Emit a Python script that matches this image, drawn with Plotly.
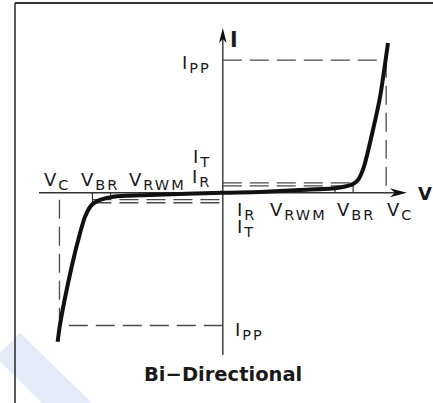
import numpy as np
import plotly.graph_objects as go

# characteristic values (normalised units: V_C ~ 1, I_PP = 1)
V_C = 0.99
V_BR = 0.79
V_RWM = 0.68
I_PP = 1.0
I_T = 0.075
I_R = 0.052

# I-V curve of the bi-directional device
V_CURVE = [-1.001, -0.987, -0.916, -0.865, -0.835, -0.795, -0.744, -0.665, -0.441,
           0.0, 0.225, 0.468, 0.680, 0.741, 0.789, 0.819, 0.844, 0.862, 0.910, 0.953, 1.001]
I_CURVE = [-1.122, -0.996, -0.557, -0.303, -0.180, -0.092, -0.054, -0.029, -0.017,
           0.0, 0.006, 0.021, 0.034, 0.047, 0.066, 0.096, 0.157, 0.225, 0.473, 0.722, 1.129]

W, H = 433, 403
ORIGIN_X, ORIGIN_Y = 222.8, 192.8   # pixel position of the axes crossing
V_PX, I_PX = 165.0, 132.7           # pixels per unit

FONT = "DejaVu Sans"
TXT = "#1a1a1a"
DASH_COL = "#4a4a4a"
MAIN, SUB = 18, 14.5


def lab(main, sub):
    return (f'<span style="letter-spacing:2px">{main}<sub>'
            f'<span style="font-size:{SUB}px">{sub}</span></sub></span>')


def paper(x, y):
    return x / W, 1 - y / H


fig = go.Figure()

dash = dict(color=DASH_COL, width=1.3, dash="19px,8px")

# I_PP / V_C guide lines
fig.add_trace(go.Scatter(x=[0, V_C, V_C], y=[I_PP, I_PP, 0], mode="lines", line=dash))
fig.add_trace(go.Scatter(x=[0, -V_C, -V_C], y=[-I_PP, -I_PP, 0], mode="lines", line=dash))
# I_T / I_R guide lines
for i in (I_T, I_R):
    fig.add_trace(go.Scatter(x=[0, V_BR], y=[i, i], mode="lines", line=dash))
    fig.add_trace(go.Scatter(x=[-V_BR, 0], y=[-i, -i], mode="lines", line=dash))

# small ticks from axis up/down to the curve at V_RWM and V_BR
for v in (V_RWM, V_BR, -V_RWM, -V_BR):
    fig.add_trace(go.Scatter(x=[v, v], y=[0, np.interp(v, V_CURVE, I_CURVE)],
                             mode="lines", line=dict(color="#333", width=1.2)))

# the curve
fig.add_trace(go.Scatter(x=V_CURVE, y=I_CURVE, mode="lines",
                         line=dict(color="#111", width=4, shape="spline", smoothing=0.7)))

# axes (drawn by hand, with arrow heads)
x_left, x_tip = -1.114, 1.116
y_bot, y_tip = -1.222, 1.242
shapes = [
    dict(type="line", x0=x_left, x1=x_tip - 10 / V_PX, y0=0, y1=0,
         line=dict(color="#333", width=1.4), layer="below"),
    dict(type="line", x0=0, x1=0, y0=y_bot, y1=y_tip - 9 / I_PX,
         line=dict(color="#333", width=1.4), layer="below"),
    dict(type="path", xsizemode="pixel", ysizemode="pixel", xanchor=x_tip, yanchor=0,
         path="M0,0 L-17,4.5 L-12,0 L-17,-4.5 Z", fillcolor="#111", line=dict(width=0)),
    dict(type="path", xsizemode="pixel", ysizemode="pixel", xanchor=0, yanchor=y_tip,
         path="M0,0 L-3.8,-15 L0,-11 L3.8,-15 Z", fillcolor="#111", line=dict(width=0)),
]

# frame and watermark stripe
x0, y0 = paper(15, 3)
shapes.append(dict(type="line", xref="paper", yref="paper", x0=x0, x1=1, y0=y0, y1=y0,
                   line=dict(color="#333", width=2)))
shapes.append(dict(type="line", xref="paper", yref="paper", x0=x0, x1=x0, y0=y0, y1=0,
                   line=dict(color="#333", width=1.6)))
pts = [paper(*p) for p in [(20, 333), (92, 403), (42, 403), (0, 361.7), (0, 353)]]
shapes.append(dict(type="path", xref="paper", yref="paper", layer="below",
                   path="M" + " L".join(f"{a:.4f},{b:.4f}" for a, b in pts) + " Z",
                   fillcolor="#e4ebf7", line=dict(width=0)))

ann = []


def add(text, x, y, xs, ys, xa="center", size=MAIN, bold=False):
    ann.append(dict(text=text, x=x, y=y, xshift=xs, yshift=ys, xanchor=xa, yanchor="middle",
                    showarrow=False,
                    font=dict(family=FONT, size=size, color=TXT,
                              weight="bold" if bold else "normal")))


# voltage labels
add(lab("V", "C"), -V_C, 0, -2, 12)
add(lab("V", "BR"), -V_BR, 0, 7.5, 12)
add(lab("V", "RWM"), -V_RWM, 0, 47, 12)
add(lab("V", "RWM"), V_RWM, 0, -36.5, -17.7)
add(lab("V", "BR"), V_BR, 0, 3, -17.7)
add(lab("V", "C"), V_C, 0, 14, -17.7)
# current labels
add(lab("I", "T"), 0, I_T, -9.8, 25.3, xa="right")
add(lab("I", "R"), 0, I_R, -9.8, 8.4, xa="right")
add(lab("I", "R"), 0, -I_R, 12.2, -11.3, xa="left")
add(lab("I", "T"), 0, -I_T, 12.2, -25.2, xa="left")
add(lab("I", "PP"), 0, I_PP, -9.8, -3.9, xa="right")
add(lab("I", "PP"), 0, -I_PP, 10.2, -5.5, xa="left")
# axis names and caption
add("I", 0, y_tip, 10.7, -12.5, size=20.5, bold=True)
add("V", x_tip, 0, 18, -0.7, size=18, bold=True)
add("Bi\u2212Directional", 0, y_bot, 0, -19.5, size=19.5, bold=True)

fig.update_layout(
    width=W, height=H, autosize=False,
    margin=dict(l=0, r=0, t=0, b=0),
    showlegend=False,
    plot_bgcolor="white", paper_bgcolor="white",
    xaxis=dict(visible=False, range=[-ORIGIN_X / V_PX, (W - ORIGIN_X) / V_PX], fixedrange=True),
    yaxis=dict(visible=False, range=[-(H - ORIGIN_Y) / I_PX, ORIGIN_Y / I_PX], fixedrange=True),
    shapes=shapes,
    annotations=ann,
)

# drop the page's default body margin so the figure fills the window
fig.write_html("out.html", config=dict(displayModeBar=False),
               post_script="document.body.style.margin='0';")
